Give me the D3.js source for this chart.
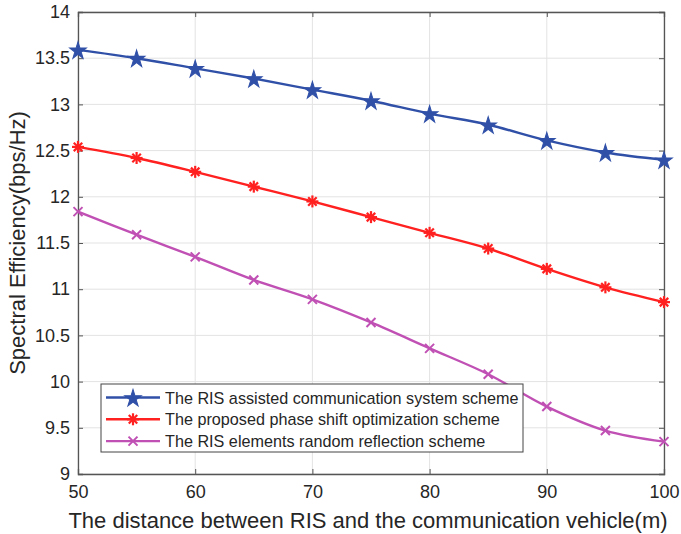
<!DOCTYPE html>
<html>
<head>
<meta charset="utf-8">
<script src="https://cdn.jsdelivr.net/npm/d3@7"></script>
<style>
  body { margin: 0; background: #fff; }
  text { font-family: "Liberation Sans", Arial, sans-serif; fill: #262626; }
</style>
</head>
<body>
<div id="chart"></div>
<script>
const distances = [50, 55, 60, 65, 70, 75, 80, 85, 90, 95, 100];
const risAssisted = [13.59, 13.50, 13.39, 13.28, 13.16, 13.04, 12.90, 12.78, 12.61, 12.48, 12.40];
const proposedShift = [12.54, 12.42, 12.27, 12.11, 11.95, 11.78, 11.61, 11.44, 11.22, 11.02, 10.86];
const randomReflect = [11.84, 11.59, 11.35, 11.10, 10.89, 10.64, 10.36, 10.08, 9.73, 9.47, 9.35];
const xTicks = [50, 60, 70, 80, 90, 100];
const yTicks = [9, 9.5, 10, 10.5, 11, 11.5, 12, 12.5, 13, 13.5, 14];
const seriesNames = [
  "The RIS assisted communication system scheme",
  "The proposed phase shift optimization scheme",
  "The RIS elements random reflection scheme"
];

const width = 681, height = 534;
const plotLeft = 78, plotRight = 664, plotTop = 12, plotBottom = 474;

const svg = d3.select("#chart").append("svg")
  .attr("width", width)
  .attr("height", height);

const x = d3.scaleLinear().domain([50, 100]).range([plotLeft, plotRight]);
const y = d3.scaleLinear().domain([9, 14]).range([plotBottom, plotTop]);

// grid
svg.append("g").selectAll("line.vg")
  .data(xTicks)
  .enter().append("line")
  .attr("x1", d => x(d)).attr("x2", d => x(d))
  .attr("y1", plotTop).attr("y2", plotBottom)
  .attr("stroke", "#e3e3e3").attr("stroke-width", 1);
svg.append("g").selectAll("line.hg")
  .data(yTicks)
  .enter().append("line")
  .attr("x1", plotLeft).attr("x2", plotRight)
  .attr("y1", d => y(d)).attr("y2", d => y(d))
  .attr("stroke", "#e3e3e3").attr("stroke-width", 1);

// axes
const xAxis = svg.append("g")
  .attr("transform", `translate(0,${plotBottom})`)
  .call(d3.axisBottom(x).tickValues(xTicks).tickSize(-5).tickPadding(11));
const yAxis = svg.append("g")
  .attr("transform", `translate(${plotLeft},0)`)
  .call(d3.axisLeft(y).tickValues(yTicks).tickSize(-5).tickPadding(8).tickFormat(d3.format("")));
const xTop = svg.append("g")
  .attr("transform", `translate(0,${plotTop})`)
  .call(d3.axisTop(x).tickValues(xTicks).tickSize(-5).tickFormat(""));
const yRight = svg.append("g")
  .attr("transform", `translate(${plotRight},0)`)
  .call(d3.axisRight(y).tickValues(yTicks).tickSize(-5).tickFormat(""));

[xAxis, yAxis, xTop, yRight].forEach(g => {
  g.select(".domain").attr("stroke", "#555").attr("stroke-width", 1.3);
  g.selectAll(".tick line").attr("stroke", "#555");
  g.selectAll(".tick text").style("font-size", "18px").attr("fill", "#262626");
});

// curves
const series = [
  { values: risAssisted, color: "#3050a8", marker: "star" },
  { values: proposedShift, color: "#ff2020", marker: "asterisk" },
  { values: randomReflect, color: "#c050b4", marker: "cross" }
];

const line = d3.line()
  .x((d, i) => x(distances[i]))
  .y(d => y(d))
  .curve(d3.curveCatmullRom);

const drawMarker = (g, type, cx, cy, color) => {
  if (type === "star") {
    g.append("path")
      .attr("d", d3.symbol(d3.symbolStar, 85)())
      .attr("transform", `translate(${cx},${cy + 1}) scale(1,1.05)`)
      .attr("fill", color)
      .attr("stroke", color).attr("stroke-width", 1);
  } else if (type === "asterisk") {
    const r = 6;
    [0, 45, 90, 135].forEach(a => {
      const rad = a * Math.PI / 180;
      g.append("line")
        .attr("x1", cx - r * Math.cos(rad)).attr("y1", cy - r * Math.sin(rad))
        .attr("x2", cx + r * Math.cos(rad)).attr("y2", cy + r * Math.sin(rad))
        .attr("stroke", color).attr("stroke-width", 2.2);
    });
  } else {
    const r = 4.5;
    g.append("path")
      .attr("d", `M${cx - r},${cy - r}L${cx + r},${cy + r}M${cx - r},${cy + r}L${cx + r},${cy - r}`)
      .attr("stroke", color).attr("stroke-width", 2);
  }
};

series.forEach(s => {
  svg.append("path")
    .datum(s.values)
    .attr("d", line)
    .attr("fill", "none")
    .attr("stroke", s.color)
    .attr("stroke-width", 2.4);
  const g = svg.append("g");
  s.values.forEach((v, i) => drawMarker(g, s.marker, x(distances[i]), y(v), s.color));
});

// legend
const lg = svg.append("g");
lg.append("rect")
  .attr("x", 101).attr("y", 384)
  .attr("width", 422).attr("height", 68)
  .attr("fill", "#fff").attr("stroke", "#444").attr("stroke-width", 1);
series.forEach((s, i) => {
  const ly = 397.5 + i * 21.8;
  lg.append("line")
    .attr("x1", 106).attr("x2", 160)
    .attr("y1", ly).attr("y2", ly)
    .attr("stroke", s.color).attr("stroke-width", 2.4);
  drawMarker(lg, s.marker, 133, ly, s.color);
  lg.append("text")
    .attr("x", 165).attr("y", ly + 6)
    .style("font-size", "16.2px")
    .text(seriesNames[i]);
});

// axis labels
svg.append("text")
  .attr("x", (plotLeft + plotRight) / 2 - 3).attr("y", 528)
  .attr("text-anchor", "middle")
  .style("font-size", "22px")
  .text("The distance between RIS and the communication vehicle(m)");
svg.append("text")
  .attr("transform", `translate(25,${(plotTop + plotBottom) / 2}) rotate(-90)`)
  .attr("text-anchor", "middle")
  .style("font-size", "22px")
  .text("Spectral Efficiency(bps/Hz)");
</script>
</body>
</html>
